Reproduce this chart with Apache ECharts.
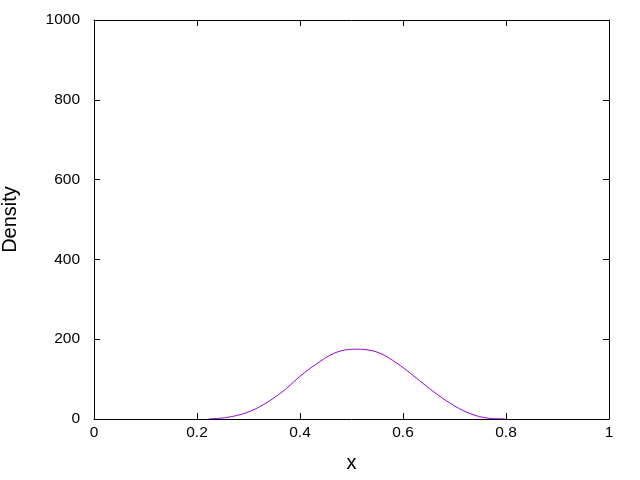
<!DOCTYPE html>
<html>
<head>
<meta charset="utf-8">
<script src="https://cdn.jsdelivr.net/npm/echarts@6/dist/echarts.min.js"></script>
<style>html,body{margin:0;padding:0;background:#fff;}#c{width:640px;height:480px;}</style>
</head>
<body>
<div id="c"></div>
<script>
const xValues = [0.223, 0.240, 0.258, 0.284, 0.306, 0.329, 0.355, 0.374, 0.400, 0.432, 0.465, 0.494, 0.510, 0.526, 0.555, 0.588, 0.614, 0.639, 0.665, 0.691, 0.717, 0.743, 0.763, 0.780, 0.798];
const densityValues = [0.3, 1.5, 4, 11, 21, 36, 58, 77, 107, 138, 164, 174, 175, 174, 165, 140, 115, 89, 63, 40, 21, 8, 2.5, 0.8, 0.3];
const xTicks = [0, 0.2, 0.4, 0.6, 0.8, 1];
const yTicks = [0, 200, 400, 600, 800, 1000];

const font = '"Liberation Sans", Arial, sans-serif';
const chart = echarts.init(document.getElementById('c'), null, {renderer: 'canvas'});
const data = xValues.map((x, i) => [x, densityValues[i]]);
const lineStyle = {color: '#000', width: 1};
const tickStyle = {show: true, inside: true, length: 6, lineStyle: {color: '#000', width: 1}};
chart.setOption({
  animation: false,
  backgroundColor: '#fff',
  grid: {left: 94, right: 31, top: 20, bottom: 61, show: false, containLabel: false, outerBoundsMode: 'none'},
  xAxis: [{
    type: 'value', min: 0, max: 1, interval: 0.2, position: 'bottom',
    name: 'x', nameLocation: 'middle', nameGap: 34,
    nameTextStyle: {fontFamily: font, fontSize: 20, color: '#000'},
    axisLine: {show: true, onZero: false, lineStyle: lineStyle},
    axisTick: tickStyle,
    splitLine: {show: false},
    axisLabel: {fontFamily: font, fontSize: 15.5, color: '#000', margin: 6,
      formatter: v => xTicks.includes(+v.toFixed(1)) ? String(+v.toFixed(1)) : ''}
  }, {
    type: 'value', min: 0, max: 1, interval: 0.2, position: 'top',
    axisLine: {show: true, onZero: false, lineStyle: lineStyle},
    axisTick: tickStyle, axisLabel: {show: false}, splitLine: {show: false}
  }],
  yAxis: [{
    type: 'value', min: 0, max: 1000, interval: 200, position: 'left',
    name: 'Density', nameLocation: 'middle', nameGap: 74, nameRotate: 90,
    nameTextStyle: {fontFamily: font, fontSize: 20, color: '#000'},
    axisLine: {show: true, onZero: false, lineStyle: lineStyle},
    axisTick: tickStyle,
    splitLine: {show: false},
    axisLabel: {fontFamily: font, fontSize: 15.5, color: '#000', margin: 14,
      formatter: v => yTicks.includes(v) ? String(v) : ''}
  }, {
    type: 'value', min: 0, max: 1000, interval: 200, position: 'right',
    axisLine: {show: true, onZero: false, lineStyle: lineStyle},
    axisTick: tickStyle, axisLabel: {show: false}, splitLine: {show: false}
  }],
  series: [{
    type: 'line', data: data, smooth: 0.4, showSymbol: false,
    xAxisIndex: 0, yAxisIndex: 0,
    lineStyle: {color: '#9400D3', width: 1}, itemStyle: {color: '#9400D3'}
  }]
});
</script>
</body>
</html>
